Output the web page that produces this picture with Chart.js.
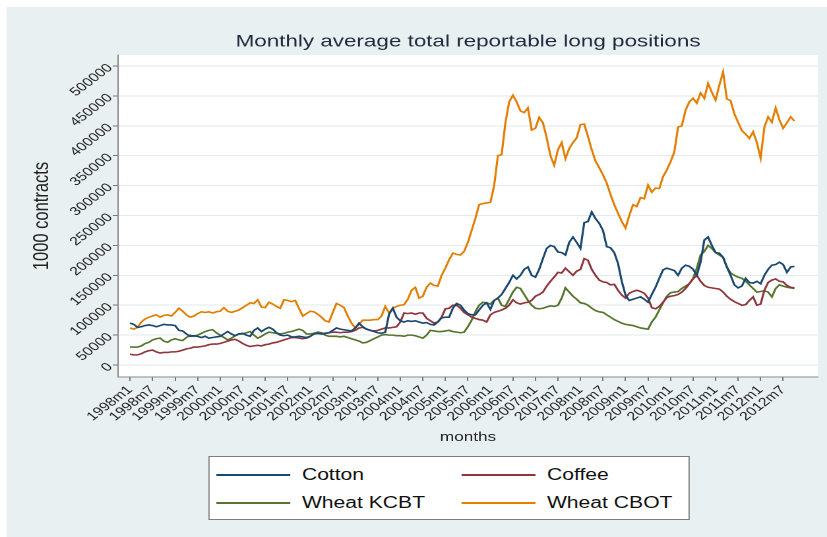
<!DOCTYPE html>
<html>
<head>
<meta charset="utf-8">
<script src="https://cdn.jsdelivr.net/npm/chart.js@4.4.1/dist/chart.umd.min.js"></script>
<style>
  html, body { margin: 0; padding: 0; background: #fff; }
  body { width: 827px; height: 537px; overflow: hidden; position: relative; }
  /* the reference is a horizontally stretched Stata graph, so draw narrow and stretch */
  #stage { position: absolute; left: 0; top: 0; width: 627px; height: 537px; transform: scaleX(1.319); transform-origin: 0 0; font-family: "Liberation Sans", Arial, sans-serif; }
  #bg { position: absolute; left: 4.5px; top: 7px; right: 0; bottom: 0; background: #e9f0f2; }
  #chart { position: absolute; left: 0; top: 0; }
  #legend { position: absolute; left: 157.7px; top: 456px; width: 365.4px; height: 64px; box-sizing: border-box; border: 1px solid #7d7d7d; background: #fff; }
  .item { position: absolute; height: 20px; display: flex; align-items: center; font-size: 16px; color: #111; white-space: nowrap; }
  .item .line { display: inline-block; width: 55.4px; height: 2px; margin-right: 9px; }
</style>
</head>
<body>
<div id="stage">
  <div id="bg"></div>
  <canvas id="chart" width="627" height="537"></canvas>
  <div id="legend"></div>
</div>
<script>
// monthly values, 1998m1 .. 2012m10 (one row per year)
const cotton = [
  70000,68000,63000,64000,66000,67000,66000,64000,66000,68000,67000,67000,
  66000,58000,57000,52000,48000,49000,48000,46000,48000,45000,46000,47000,
  48000,52000,56000,52000,49000,52000,53000,50000,48000,58000,62000,56000,
  60000,63000,60000,54000,50000,49000,50000,47000,47000,48000,47000,46000,
  48000,52000,53000,52000,53000,54000,58000,62000,60000,59000,58000,57000,
  62000,70000,64000,60000,58000,56000,54000,53000,55000,85000,95000,80000,
  74000,72000,74000,73000,74000,72000,70000,71000,68000,67000,72000,79000,
  80000,80000,95000,103000,100000,92000,86000,84000,84000,92000,100000,104000,
  93000,108000,112000,118000,128000,138000,150000,144000,150000,160000,164000,150000,
  147000,160000,178000,195000,200000,198000,189000,188000,184000,205000,214000,205000,
  195000,238000,240000,256000,245000,237000,225000,198000,196000,188000,170000,140000,
  117000,108000,110000,112000,114000,110000,105000,118000,130000,145000,159000,162000,
  160000,158000,150000,162000,167000,165000,160000,150000,172000,209000,214000,200000,
  188000,187000,180000,164000,150000,134000,129000,132000,145000,138000,137000,140000,
  136000,150000,160000,167000,168000,172000,168000,155000,164000,165000
];
const coffee = [
  18000,17000,17000,19000,22000,24000,25000,22000,20000,21000,21000,22000,
  22000,23000,25000,27000,28000,30000,30000,31000,32000,34000,35000,35000,
  36000,38000,40000,42000,43000,40000,36000,33000,31000,32000,33000,32000,
  34000,35000,37000,38000,40000,42000,44000,46000,46000,45000,44000,45000,
  48000,52000,53000,52000,53000,54000,55000,55000,54000,55000,55000,56000,
  58000,62000,63000,60000,58000,57000,58000,60000,62000,62000,63000,64000,
  72000,87000,86000,87000,85000,87000,87000,78000,74000,70000,72000,80000,
  94000,95000,100000,100000,95000,88000,84000,80000,78000,76000,75000,72000,
  84000,88000,90000,92000,95000,100000,109000,104000,102000,104000,105000,108000,
  115000,118000,122000,132000,140000,147000,155000,154000,162000,156000,150000,157000,
  160000,178000,175000,160000,150000,142000,139000,138000,134000,135000,125000,117000,
  112000,120000,123000,125000,123000,120000,112000,96000,94000,98000,105000,113000,
  115000,116000,118000,122000,128000,136000,144000,150000,140000,133000,130000,129000,
  128000,127000,122000,115000,110000,106000,103000,100000,101000,108000,114000,100000,
  102000,125000,138000,142000,144000,140000,139000,133000,130000,129000
];
const wheatKCBT = [
  30000,30000,30000,32000,36000,38000,42000,44000,45000,40000,38000,42000,
  44000,42000,41000,46000,50000,48000,50000,53000,56000,58000,59000,54000,
  50000,46000,42000,45000,49000,52000,52000,54000,56000,50000,45000,48000,
  52000,55000,54000,53000,52000,53000,55000,56000,58000,60000,58000,52000,
  52000,53000,55000,54000,50000,48000,48000,48000,47000,48000,46000,44000,
  42000,40000,37000,38000,41000,44000,47000,50000,51000,50000,50000,49000,
  49000,48000,50000,50000,49000,47000,45000,50000,58000,57000,56000,56000,
  57000,58000,56000,55000,54000,55000,64000,75000,89000,100000,105000,104000,
  102000,108000,112000,100000,98000,110000,122000,130000,128000,118000,108000,100000,
  95000,94000,95000,97000,99000,98000,100000,112000,129000,122000,115000,110000,
  104000,103000,100000,95000,91000,89000,88000,84000,80000,76000,73000,70000,
  68000,67000,66000,64000,62000,61000,60000,72000,80000,92000,104000,115000,
  121000,122000,123000,128000,132000,136000,145000,162000,184000,190000,200000,195000,
  188000,184000,180000,164000,154000,150000,147000,145000,140000,134000,128000,122000,
  123000,124000,122000,114000,128000,134000,132000,130000,129000,128000
];
const wheatCBOT = [
  62000,60000,63000,72000,77000,80000,82000,84000,80000,83000,84000,82000,
  88000,95000,90000,84000,80000,82000,86000,89000,88000,89000,87000,89000,
  90000,96000,90000,88000,90000,92000,96000,100000,104000,103000,109000,97000,
  96000,105000,102000,98000,95000,109000,108000,106000,108000,95000,82000,86000,
  90000,89000,85000,80000,74000,72000,88000,103000,100000,96000,82000,70000,
  62000,68000,75000,75000,75000,76000,76000,82000,98000,87000,95000,98000,
  100000,101000,110000,125000,130000,112000,115000,130000,137000,133000,132000,150000,
  162000,176000,187000,185000,184000,190000,205000,225000,245000,268000,270000,271000,
  272000,300000,350000,352000,405000,440000,451000,440000,425000,422000,430000,393000,
  396000,414000,405000,380000,350000,334000,360000,372000,345000,362000,372000,380000,
  402000,403000,382000,360000,341000,330000,318000,304000,285000,268000,254000,240000,
  229000,250000,268000,265000,280000,278000,301000,289000,296000,295000,315000,326000,
  340000,356000,398000,400000,426000,440000,446000,438000,455000,446000,471000,456000,
  443000,468000,490000,445000,442000,420000,406000,392000,386000,379000,390000,372000,
  346000,398000,415000,406000,430000,410000,396000,405000,415000,408000
];

const xTickLabels = ['1998m1','1998m7','1999m1','1999m7','2000m1','2000m7','2001m1','2001m7',
  '2002m1','2002m7','2003m1','2003m7','2004m1','2004m7','2005m1','2005m7','2006m1','2006m7',
  '2007m1','2007m7','2008m1','2008m7','2009m1','2009m7','2010m1','2010m7','2011m1','2011m7',
  '2012m1','2012m7'];
const yTicks = [0, 50000, 100000, 150000, 200000, 250000, 300000, 350000, 400000, 450000, 500000];

const series = [
  { label: 'Cotton', data: cotton, color: '#1a476f' },
  { label: 'Coffee', data: coffee, color: '#90353b' },
  { label: 'Wheat KCBT', data: wheatKCBT, color: '#55752f' },
  { label: 'Wheat CBOT', data: wheatCBOT, color: '#e37e00' }
];

const font = '"Liberation Sans", Arial, sans-serif';

// white plot region and the title centred over it
const plotRegion = {
  id: 'plotRegion',
  beforeDraw(chart) {
    const { ctx, chartArea: a } = chart;
    ctx.save();
    ctx.fillStyle = '#ffffff';
    ctx.fillRect(a.left, a.top, a.right - a.left, a.bottom - a.top);
    ctx.restore();
  },
  afterDraw(chart) {
    const { ctx, chartArea: a } = chart;
    ctx.save();
    ctx.font = '17px ' + font;
    ctx.fillStyle = '#1f2a3c';
    ctx.textAlign = 'center';
    ctx.textBaseline = 'middle';
    ctx.fillText('Monthly average total reportable long positions', (a.left + a.right) / 2, 42);
    ctx.restore();
  }
};

const ctx = document.getElementById('chart').getContext('2d');
const chart = new Chart(ctx, {
  type: 'line',
  data: {
    datasets: series.map(s => ({
      label: s.label,
      data: s.data.map((v, i) => ({ x: i, y: v })),
      borderColor: s.color,
      backgroundColor: s.color,
      borderWidth: 1.6,
      pointRadius: 0,
      tension: 0,
      fill: false
    }))
  },
  options: {
    responsive: false,
    animation: false,
    devicePixelRatio: 2,
    layout: { padding: { top: 55, right: 6.8, bottom: 80, left: 0 } },
    plugins: { legend: { display: false }, tooltip: { enabled: false } },
    scales: {
      x: {
        type: 'linear',
        min: -3.2,
        max: 183.3,
        afterBuildTicks: s => { s.ticks = xTickLabels.map((_, k) => ({ value: k * 6 })); },
        afterFit: s => { s.height = 80; },
        ticks: {
          autoSkip: false, minRotation: 45, maxRotation: 45, padding: 2,
          color: '#222', font: { family: font, size: 12 },
          callback: (v, i) => xTickLabels[i]
        },
        grid: { drawOnChartArea: false, tickLength: 4, tickColor: '#777' },
        border: { color: '#8a8a8a', width: 1 },
        title: { display: true, text: 'months', color: '#222', font: { family: font, size: 13 }, padding: { top: 0, bottom: 12 } }
      },
      y: {
        min: -20000,
        max: 518400,
        afterBuildTicks: s => { s.ticks = yTicks.map(v => ({ value: v })); },
        afterFit: s => { s.width = 89.5; },
        ticks: {
          minRotation: 45, maxRotation: 45, padding: 2,
          color: '#222', font: { family: font, size: 12 },
          callback: (v, i) => String(yTicks[i])
        },
        grid: { color: '#e3eaec', lineWidth: 1, tickLength: 4, tickColor: '#777' },
        border: { color: '#8a8a8a', width: 1 },
        title: { display: true, text: '1000 contracts', color: '#222', font: { family: font, size: 16.5 }, padding: { top: 22, bottom: 0 } }
      }
    }
  },
  plugins: [plotRegion]
});

// legend box: two columns, built from the datasets
const legend = document.getElementById('legend');
const colLeft = [5.8, 191.6];
const rowTop = [8, 36];
chart.data.datasets.forEach((d, k) => {
  const item = document.createElement('div');
  item.className = 'item';
  item.style.left = colLeft[k % 2] + 'px';
  item.style.top = rowTop[Math.floor(k / 2)] + 'px';
  const line = document.createElement('span');
  line.className = 'line';
  line.style.background = d.borderColor;
  item.appendChild(line);
  item.appendChild(document.createTextNode(d.label));
  legend.appendChild(item);
});
</script>
</body>
</html>
